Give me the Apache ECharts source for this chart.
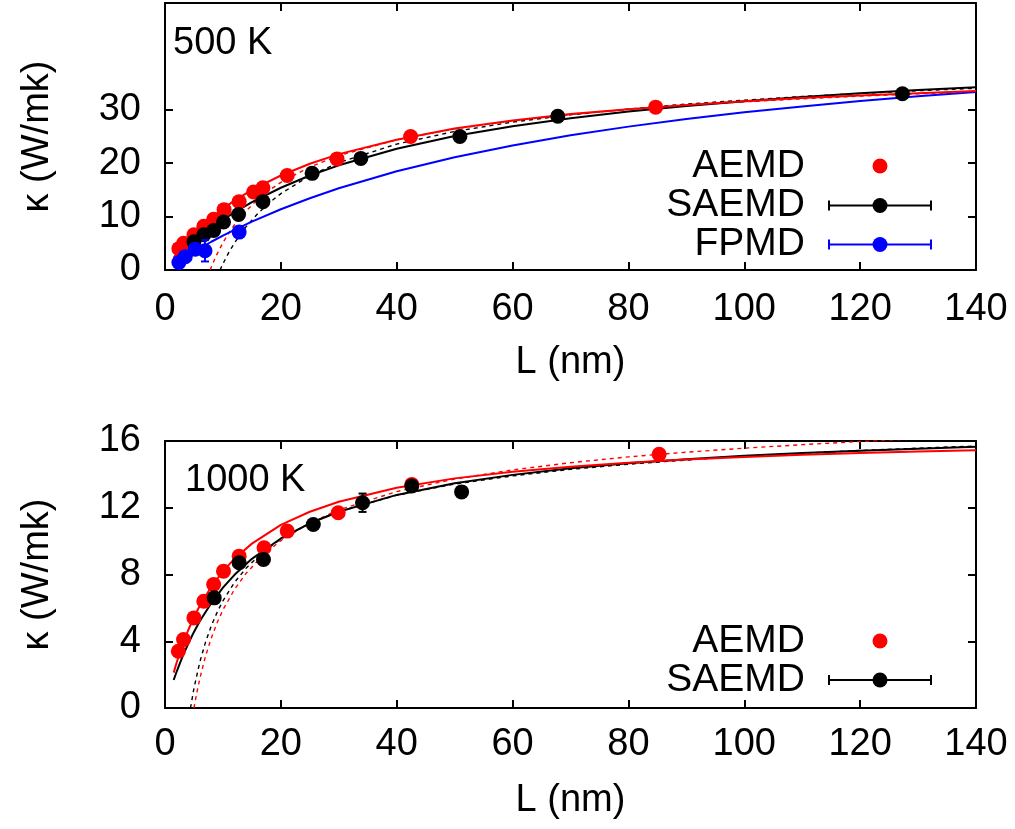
<!DOCTYPE html>
<html>
<head>
<meta charset="utf-8">
<script src="https://cdn.jsdelivr.net/npm/echarts@6/dist/echarts.min.js"></script>
<style>
  html, body { margin: 0; padding: 0; background: #fff; }
  #chart { width: 1015px; height: 829px; }
</style>
</head>
<body>
<div id="chart"></div>
<script>
// ---------- 500 K : measured points ----------
const aemd500L  = [2.4, 3.2, 5.0, 6.7, 8.4, 10.2, 12.8, 15.3, 16.9, 21.1, 29.7, 42.4, 84.7];
const aemd500K  = [4.0, 5.0, 6.6, 8.2, 9.5, 11.3, 12.8, 14.6, 15.4, 17.7, 20.8, 25.0, 30.5];
const saemd500L = [5.0, 6.7, 8.4, 10.1, 12.7, 16.9, 25.4, 33.8, 50.9, 67.8, 127.3];
const saemd500K = [5.3, 6.6, 7.4, 9.0, 10.4, 12.8, 18.1, 20.9, 25.0, 28.8, 33.0];
const fpmd500L  = [2.4, 3.5, 5.2, 6.9, 12.8];
const fpmd500K  = [1.4, 2.5, 3.9, 3.6, 7.1];
const fpmd500Err = [0, 0, 0, 2.0, 0];

// ---------- 500 K : fitted curves ----------
const fitAemd500L = [1.5, 2, 3, 4, 6, 8, 10, 12, 15, 20, 25, 30, 40, 50, 60, 70, 80, 90, 100, 110, 120, 130, 140];
const fitAemd500K = [2.3, 3.0, 4.3, 5.6, 7.8, 9.7, 11.5, 13.0, 15.0, 17.7, 19.9, 21.7, 24.4, 26.5, 28.0, 29.2, 30.1, 30.9, 31.6, 32.2, 32.7, 33.1, 33.5];
const fitSaemd500L = [3, 4, 6, 8, 10, 12, 15, 20, 25, 30, 40, 50, 60, 70, 80, 90, 100, 110, 120, 130, 140];
const fitSaemd500K = [3.33, 4.33, 6.17, 7.87, 9.41, 10.8, 12.7, 15.4, 17.7, 19.6, 22.7, 25.1, 26.9, 28.4, 29.7, 30.7, 31.6, 32.4, 33.1, 33.7, 34.2];
const fitFpmd500L = [2, 3, 4, 6, 8, 10, 12, 15, 20, 25, 30, 40, 50, 60, 70, 80, 90, 100, 110, 120, 130, 140];
const fitFpmd500K = [1.44, 2.13, 2.79, 4.07, 5.29, 6.44, 7.52, 9.06, 11.38, 13.44, 15.30, 18.48, 21.11, 23.33, 25.22, 26.85, 28.27, 29.52, 30.64, 31.63, 32.52, 33.32];
const dashAemd500L = [7.8, 8, 8.5, 9, 10, 11, 12, 14, 16, 18, 20, 25, 30, 40, 50, 60, 70, 80, 90, 100, 110, 120, 130, 140];
const dashAemd500K = [0, 0.55, 1.84, 3.02, 5.10, 6.90, 8.47, 11.08, 13.19, 14.93, 16.41, 19.29, 21.42, 24.40, 26.44, 27.94, 29.11, 30.06, 30.84, 31.49, 32.06, 32.56, 33.00, 33.38];
const dashSaemd500L = [9.5, 10, 11, 12, 13, 14, 16, 18, 20, 25, 30, 40, 50, 60, 70, 80, 90, 100, 110, 120, 130, 140];
const dashSaemd500K = [0, 1.16, 3.25, 5.07, 6.68, 8.11, 10.55, 12.58, 14.31, 17.65, 20.12, 23.58, 25.95, 27.70, 29.05, 30.15, 31.06, 31.82, 32.48, 33.06, 33.57, 34.02];

// ---------- 1000 K : measured points ----------
const aemd1000L  = [2.3, 3.2, 5.0, 6.7, 8.4, 10.1, 12.8, 17.1, 21.1, 29.9, 42.6, 85.3];
const aemd1000K  = [3.4, 4.1, 5.4, 6.4, 7.4, 8.2, 9.1, 9.6, 10.6, 11.7, 13.4, 15.2];
const saemd1000L = [8.5, 12.8, 17.0, 25.6, 34.1, 42.6, 51.2];
const saemd1000K = [6.6, 8.7, 8.9, 11.0, 12.3, 13.3, 12.95];
const saemd1000Err = [0, 0, 0, 0, 0.55, 0, 0];

// ---------- 1000 K : fitted curves ----------
const fit1000L = [1.5, 2, 3, 4, 5, 6, 8, 10, 12, 15, 20, 25, 30, 40, 50, 60, 70, 80, 90, 100, 110, 120, 130, 140];
const fitAemd1000K  = [2.12, 2.71, 3.76, 4.66, 5.44, 6.13, 7.27, 8.19, 8.95, 9.85, 10.97, 11.76, 12.36, 13.20, 13.76, 14.16, 14.46, 14.70, 14.89, 15.04, 15.17, 15.28, 15.37, 15.45];
const fitSaemd1000K = [1.68, 2.17, 3.06, 3.85, 4.56, 5.20, 6.29, 7.21, 7.98, 8.94, 10.16, 11.07, 11.76, 12.77, 13.47, 13.97, 14.36, 14.66, 14.90, 15.11, 15.28, 15.42, 15.54, 15.65];
const dashAemd1000L = [5, 5.5, 6, 7, 8, 9, 10, 12, 14, 17, 20, 25, 30, 40, 50, 60, 70, 80, 90, 100, 110, 120, 130, 140];
const dashAemd1000K = [0, 0.93, 1.75, 3.11, 4.20, 5.11, 5.88, 7.11, 8.07, 9.18, 10.03, 11.09, 11.87, 12.97, 13.72, 14.27, 14.70, 15.05, 15.33, 15.57, 15.78, 15.97, 16.13, 16.28];
const dashSaemd1000L = [4.4, 5, 6, 7, 8, 9, 10, 12, 14, 17, 20, 25, 30, 40, 50, 60, 70, 80, 90, 100, 110, 120, 130, 140];
const dashSaemd1000K = [0, 1.18, 2.74, 3.95, 4.93, 5.74, 6.42, 7.53, 8.38, 9.37, 10.13, 11.08, 11.77, 12.75, 13.42, 13.91, 14.30, 14.61, 14.86, 15.08, 15.26, 15.43, 15.57, 15.70];

// ---------- axis ticks ----------
const xTicks = [0, 20, 40, 60, 80, 100, 120, 140];
const yTicks500 = [0, 10, 20, 30];
const yTicks1000 = [0, 4, 8, 12, 16];

const RED = '#ff0000', BLACK = '#000000', BLUE = '#0000ff';
const FONT = "'Liberation Sans', Arial, Helvetica, sans-serif";
const FS = 38;

const zip = (xs, ys) => xs.map((x, i) => [x, ys[i]]);

function curve(L, K, color, axes, dashed) {
  return {
    type: 'line', xAxisIndex: axes[0], yAxisIndex: axes[1],
    data: zip(L, K), showSymbol: false, smooth: false,
    clip: true, silent: true, z: 2,
    lineStyle: dashed ? { color, width: 1.4, type: [4, 4] } : { color, width: 2 }
  };
}

function points(L, K, color, axes, z) {
  return {
    type: 'scatter', xAxisIndex: axes[0], yAxisIndex: axes[1],
    data: zip(L, K), symbol: 'circle', symbolSize: 15, z,
    itemStyle: { color, opacity: 1 }, silent: true
  };
}

function errorBars(L, K, E, color, axes, z) {
  const data = L.map((x, i) => [x, K[i], E[i]]).filter(d => d[2] > 0);
  return {
    type: 'custom', xAxisIndex: axes[0], yAxisIndex: axes[1], z, silent: true,
    renderItem(params, api) {
      const x = api.value(0), y = api.value(1), e = api.value(2);
      const hi = api.coord([x, y + e]), lo = api.coord([x, y - e]);
      const c = 4, st = { stroke: color, lineWidth: 2 };
      return {
        type: 'group', children: [
          { type: 'line', shape: { x1: hi[0], y1: hi[1], x2: lo[0], y2: lo[1] }, style: st },
          { type: 'line', shape: { x1: hi[0] - c, y1: hi[1], x2: hi[0] + c, y2: hi[1] }, style: st },
          { type: 'line', shape: { x1: lo[0] - c, y1: lo[1], x2: lo[0] + c, y2: lo[1] }, style: st }
        ]
      };
    },
    data
  };
}

const frameLine = { show: true, onZero: false, lineStyle: { color: '#000', width: 2 } };
const tickStyle = { color: '#000', width: 2 };

function xAxisPair(gi, labelMargin) {
  return [
    { type: 'value', gridIndex: gi, position: 'bottom', min: 0, max: 140, interval: 20,
      axisLine: frameLine,
      axisTick: { inside: true, length: 8, lineStyle: tickStyle },
      axisLabel: { color: '#000', fontSize: FS, fontFamily: FONT, margin: labelMargin, customValues: xTicks },
      splitLine: { show: false },
      name: 'L (nm)', nameLocation: 'middle', nameGap: 74,
      nameTextStyle: { color: '#000', fontSize: FS, fontFamily: FONT } },
    { type: 'value', gridIndex: gi, position: 'top', min: 0, max: 140, interval: 20,
      axisLine: frameLine,
      axisTick: { inside: true, length: 8, lineStyle: tickStyle },
      axisLabel: { show: false }, splitLine: { show: false } }
  ];
}

function yAxisPair(gi, max, interval, ticks) {
  return [
    { type: 'value', gridIndex: gi, position: 'left', min: 0, max, interval,
      axisLine: frameLine,
      axisTick: { inside: true, length: 8, lineStyle: tickStyle, customValues: ticks },
      axisLabel: { color: '#000', fontSize: FS, fontFamily: FONT, margin: 24, customValues: ticks },
      splitLine: { show: false },
      name: 'κ (W/mk)', nameLocation: 'middle', nameGap: 108,
      nameTextStyle: { color: '#000', fontSize: FS, fontFamily: FONT } },
    { type: 'value', gridIndex: gi, position: 'right', min: 0, max, interval,
      axisLine: frameLine,
      axisTick: { inside: true, length: 8, lineStyle: tickStyle, customValues: ticks },
      axisLabel: { show: false }, splitLine: { show: false } }
  ];
}

// legend keys, drawn at the right of each panel
function legendRows(rows) {
  const out = [];
  rows.forEach(r => {
    out.push({ type: 'text', x: 805, y: r.y,
      style: { text: r.name, fill: '#000', fontSize: 39, fontFamily: FONT, align: 'right', verticalAlign: 'middle' } });
    if (r.bar) {
      const st = { stroke: r.color, lineWidth: 2 };
      out.push({ type: 'line', shape: { x1: 829, y1: r.y, x2: 931, y2: r.y }, style: st });
      out.push({ type: 'line', shape: { x1: 829, y1: r.y - 5, x2: 829, y2: r.y + 5 }, style: st });
      out.push({ type: 'line', shape: { x1: 931, y1: r.y - 5, x2: 931, y2: r.y + 5 }, style: st });
    }
    out.push({ type: 'circle', shape: { cx: 880, cy: r.y, r: 7.5 }, style: { fill: r.color } });
  });
  return out;
}

const A500 = [0, 0], A1000 = [2, 2];

const option = {
  animation: false,
  backgroundColor: '#fff',
  textStyle: { fontFamily: FONT },
  title: [
    { text: '500 K', left: 173, top: 25, padding: 0,
      textStyle: { fontSize: FS, fontWeight: 'normal', color: '#000', fontFamily: FONT } },
    { text: '1000 K', left: 185, top: 462, padding: 0,
      textStyle: { fontSize: FS, fontWeight: 'normal', color: '#000', fontFamily: FONT } }
  ],
  grid: [
    { left: 165, right: 39, top: 3, height: 267 },
    { left: 165, right: 39, top: 441, height: 267 }
  ],
  xAxis: [...xAxisPair(0, 21), ...xAxisPair(1, 18)],
  yAxis: [...yAxisPair(0, 50, 10, yTicks500), ...yAxisPair(1, 16, 4, yTicks1000)],
  graphic: [
    ...legendRows([
      { name: 'AEMD', y: 166, color: RED, bar: false },
      { name: 'SAEMD', y: 205.5, color: BLACK, bar: true },
      { name: 'FPMD', y: 244.5, color: BLUE, bar: true }
    ]),
    ...legendRows([
      { name: 'AEMD', y: 641, color: RED, bar: false },
      { name: 'SAEMD', y: 680, color: BLACK, bar: true }
    ])
  ],
  series: [
    // 500 K
    curve(dashAemd500L, dashAemd500K, RED, A500, true),
    curve(dashSaemd500L, dashSaemd500K, BLACK, A500, true),
    curve(fitFpmd500L, fitFpmd500K, BLUE, A500, false),
    curve(fitSaemd500L, fitSaemd500K, BLACK, A500, false),
    curve(fitAemd500L, fitAemd500K, RED, A500, false),
    points(aemd500L, aemd500K, RED, A500, 4),
    points(saemd500L, saemd500K, BLACK, A500, 5),
    errorBars(fpmd500L, fpmd500K, fpmd500Err, BLUE, A500, 6),
    points(fpmd500L, fpmd500K, BLUE, A500, 7),
    // 1000 K
    curve(dashAemd1000L, dashAemd1000K, RED, A1000, true),
    curve(dashSaemd1000L, dashSaemd1000K, BLACK, A1000, true),
    curve(fit1000L, fitSaemd1000K, BLACK, A1000, false),
    curve(fit1000L, fitAemd1000K, RED, A1000, false),
    points(aemd1000L, aemd1000K, RED, A1000, 4),
    errorBars(saemd1000L, saemd1000K, saemd1000Err, BLACK, A1000, 5),
    points(saemd1000L, saemd1000K, BLACK, A1000, 6)
  ]
};

const chart = echarts.init(document.getElementById('chart'), null, { renderer: 'canvas' });
chart.setOption(option);
</script>
</body>
</html>
